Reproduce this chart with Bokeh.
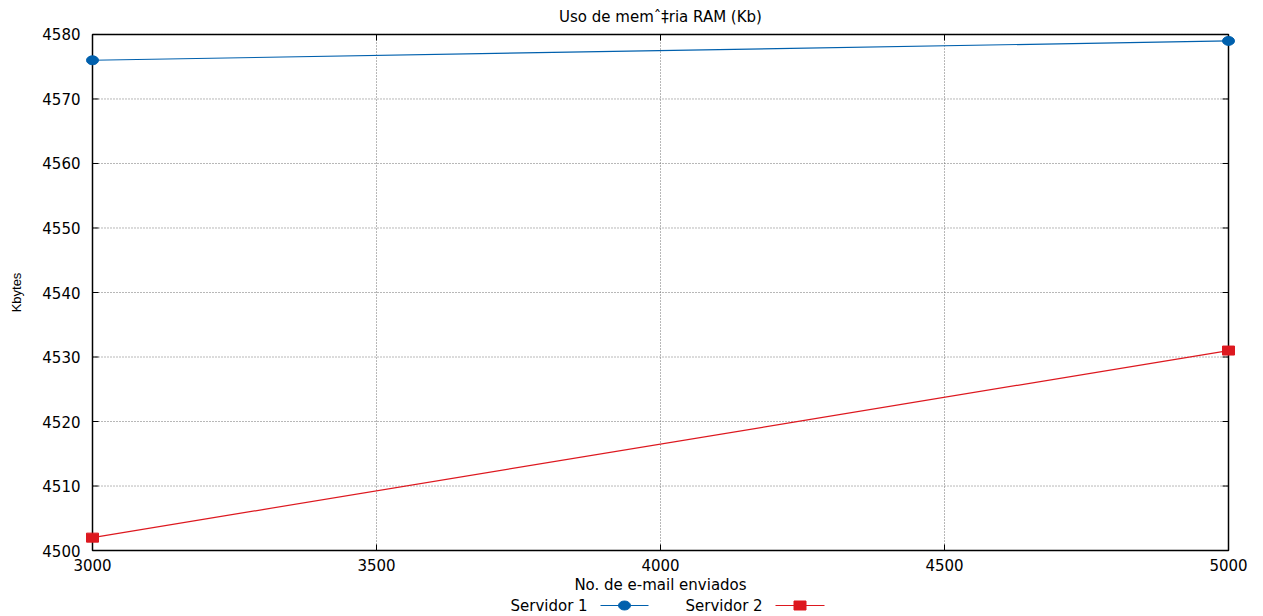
import math
from bokeh.plotting import figure
from bokeh.layouts import column
from bokeh.models import Range1d, LinearAxis, FixedTicker, ColumnDataSource
from bokeh.core.properties import value
from bokeh.embed import file_html
from bokeh.resources import INLINE

# Data
emails = [3000, 5000]
servidor1 = [4576, 4579]
servidor2 = [4502, 4531]
x_ticks = [3000, 3500, 4000, 4500, 5000]
y_ticks = [4500, 4510, 4520, 4530, 4540, 4550, 4560, 4570, 4580]
series_names = ["Servidor 1", "Servidor 2"]

X0, X1 = 3000, 5000
Y0, Y1 = 4500, 4580

FONT = "DejaVu Sans"
BLUE = "#0060ad"
RED = "#dd181f"

# Keep a few pixels of room around the plot box so edge markers are not cut
BOX_W, BOX_H, MARGIN = 1136, 518, 8
pad_x = (X1 - X0) * MARGIN / BOX_W
pad_y = (Y1 - Y0) * MARGIN / BOX_H
LEFT, RIGHT = 84, 27

p = figure(width=1263, height=596, output_backend="svg", toolbar_location=None,
           x_range=Range1d(X0 - pad_x, X1 + pad_x),
           y_range=Range1d(Y0 - pad_y, Y1 + pad_y),
           min_border_left=LEFT, min_border_right=RIGHT, min_border_top=26,
           min_border_bottom=36, x_axis_location=None, y_axis_location=None)
p.outline_line_color = None
p.xgrid.visible = False
p.ygrid.visible = False

p.title.text = "Uso de memˆ‡ria RAM (Kb)"
p.title.align = "center"
p.title.text_font = FONT
p.title.text_font_size = "15px"
p.title.text_font_style = "normal"
p.title.text_color = "black"
p.title.offset = 0
p.title.standoff = 1

# Axes: labels only, the box and ticks are drawn on the plot itself
xaxis = LinearAxis(ticker=FixedTicker(ticks=x_ticks), axis_label="No. de e-mail enviados")
yaxis = LinearAxis(ticker=FixedTicker(ticks=y_ticks), axis_label="Kbytes")
for ax in (xaxis, yaxis):
    ax.major_label_text_font = FONT
    ax.major_label_text_font_size = "15px"
    ax.major_label_text_color = "black"
    ax.axis_label_text_font = FONT
    ax.axis_label_text_font_size = "15px"
    ax.axis_label_text_font_style = "normal"
    ax.axis_label_text_color = "black"
    ax.major_tick_line_color = None
    ax.minor_tick_line_color = None
    ax.axis_line_color = None
    ax.major_tick_in = 0
    ax.major_tick_out = 0
xaxis.major_label_standoff = 0
xaxis.axis_label_standoff = 2
yaxis.major_label_standoff = 4
yaxis.axis_label_standoff = 15
yaxis.axis_label_text_font = "Liberation Sans"
yaxis.axis_label_text_font_size = "13px"
p.add_layout(xaxis, "below")
p.add_layout(yaxis, "left")

# Dotted grid inside the box
p.segment(x0=x_ticks, y0=[Y0] * len(x_ticks), x1=x_ticks, y1=[Y1] * len(x_ticks),
          line_color="#707070", line_dash="1 2", line_width=1)
p.segment(x0=[X0] * len(y_ticks), y0=y_ticks, x1=[X1] * len(y_ticks), y1=y_ticks,
          line_color="#707070", line_dash="1 2", line_width=1)

# Plot box
p.quad(left=[X0], right=[X1], bottom=[Y0], top=[Y1], fill_alpha=0,
       line_color="black", line_width=1.5)

# Inward ticks on all four sides
tick_len = 6
p.ray(x=[X0] * len(y_ticks), y=y_ticks, length=tick_len, angle=0,
      length_units="screen", line_color="black", line_width=1)
p.ray(x=[X1] * len(y_ticks), y=y_ticks, length=tick_len, angle=math.pi,
      length_units="screen", line_color="black", line_width=1)
p.ray(x=x_ticks, y=[Y0] * len(x_ticks), length=tick_len, angle=math.pi / 2,
      length_units="screen", line_color="black", line_width=1)
p.ray(x=x_ticks, y=[Y1] * len(x_ticks), length=tick_len, angle=-math.pi / 2,
      length_units="screen", line_color="black", line_width=1)

src1 = ColumnDataSource(dict(x=emails, y=servidor1))
src2 = ColumnDataSource(dict(x=emails, y=servidor2))

p.line("x", "y", source=src1, line_color=BLUE, line_width=1.2)
p.ellipse("x", "y", source=src1, width=12, height=9, width_units="screen",
          height_units="screen", fill_color=BLUE, line_color=BLUE)
p.line("x", "y", source=src2, line_color=RED, line_width=1.2)
p.rect("x", "y", source=src2, width=12, height=9, width_units="screen",
       height_units="screen", fill_color=RED, line_color=RED)

# Key row under the chart: name, then a sample of line and marker.
# Its frame lines up with the chart frame, so x is given in page pixels.
key = figure(width=1263, height=20, output_backend="svg", toolbar_location=None,
             x_range=Range1d(LEFT, 1263 - RIGHT), y_range=Range1d(20, 0),
             min_border_left=LEFT, min_border_right=RIGHT, min_border_top=0,
             min_border_bottom=0, x_axis_location=None, y_axis_location=None)
key.outline_line_color = None
key.xgrid.visible = False
key.ygrid.visible = False
key_text_x = [510, 685]
key_line_x = [(600, 648), (775, 824)]
key_y = 9
key.text(x=key_text_x, y=[key_y, key_y], text=series_names,
         text_font=value(FONT), text_font_size="15px", text_baseline="middle",
         text_color="black")
(a1, b1), (a2, b2) = key_line_x
key.line([a1, b1], [key_y, key_y], line_color=BLUE, line_width=1.2)
key.ellipse([(a1 + b1) / 2], [key_y], width=12, height=9, width_units="screen",
            height_units="screen", fill_color=BLUE, line_color=BLUE)
key.line([a2, b2], [key_y, key_y], line_color=RED, line_width=1.2)
key.rect([(a2 + b2) / 2], [key_y], width=12, height=9, width_units="screen",
         height_units="screen", fill_color=RED, line_color=RED)

layout = column(p, key, spacing=0)
open("out.html", "w").write(file_html(layout, INLINE))
